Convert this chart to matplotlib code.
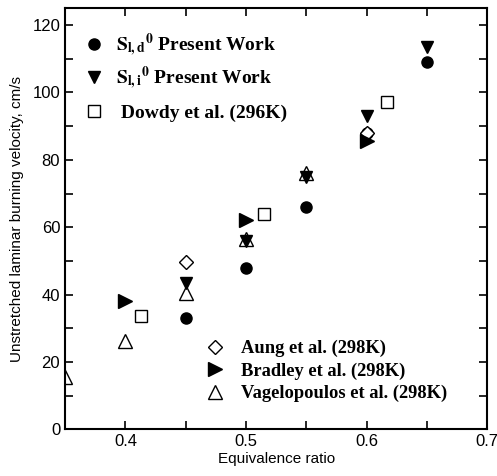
import numpy as np
import matplotlib
matplotlib.use('Agg')
import matplotlib.pyplot as plt

# ── data ──────────────────────────────────────────────────────────────────────
phi_sld = [0.45, 0.50, 0.55, 0.60, 0.65]
sld     = [33.0, 48.0, 66.0, 88.0, 109.0]

phi_sli = [0.45, 0.50, 0.55, 0.60, 0.65]
sli     = [43.5, 56.0, 75.0, 93.0, 113.5]

phi_dowdy = [0.413, 0.515, 0.617]
dowdy     = [33.8, 63.8, 97.0]

phi_aung = [0.45, 0.60]
aung     = [49.6, 88.0]

phi_bradley = [0.40, 0.50, 0.60]
bradley     = [38.0, 62.0, 85.5]

phi_vag = [0.35, 0.40, 0.45, 0.50, 0.55]
vag     = [15.5, 26.2, 40.5, 56.5, 76.0]

# ── style ─────────────────────────────────────────────────────────────────────
plt.rcParams.update({'font.family': 'Liberation Sans',
                     'mathtext.fontset': 'stix'})
bold1 = {'family': 'Liberation Serif', 'weight': 'bold', 'size': 14}
bold2 = {'family': 'Liberation Serif', 'weight': 'bold', 'size': 13.3}

fig = plt.figure(figsize=(4.97, 4.76), dpi=100)
ax = fig.add_axes([0.131, 0.0977, 0.849, 0.8853])

h1, = ax.plot(phi_sld, sld, 'o', color='k', ms=8, ls='none')
h2, = ax.plot(phi_sli, sli, 'v', color='k', ms=8.5, ls='none')
h3, = ax.plot(phi_dowdy, dowdy, 's', mfc='white', mec='k', mew=1.0, ms=9, ls='none')
h4, = ax.plot(phi_aung, aung, 'D', mfc='white', mec='k', mew=1.0, ms=7.5, ls='none')
h5, = ax.plot(phi_bradley, bradley, '>', color='k', ms=10, ls='none')
h6, = ax.plot(phi_vag, vag, '^', mfc='none', mec='k', mew=1.0, ms=10.5, ls='none')

ax.set_xlim(0.35, 0.7)
ax.set_ylim(0, 125)
ax.set_xticks([0.4, 0.5, 0.6, 0.7])
ax.set_xticks(np.arange(0.35, 0.701, 0.05), minor=True)
ax.set_yticks(np.arange(0, 121, 20))
ax.set_yticks(np.arange(0, 121, 10), minor=True)
ax.tick_params(direction='in', which='both', top=True, right=True, labelsize=12)
ax.tick_params(which='major', length=6, width=1.2)
ax.tick_params(which='minor', length=6, width=1.2)
for s in ax.spines.values():
    s.set_linewidth(1.5)

ax.set_xlabel('Equivalence ratio', fontsize=11, labelpad=2)
ax.set_ylabel('Unstretched laminar burning velocity, cm/s', fontsize=11, labelpad=6)

leg1 = ax.legend([h1, h2],
                 [r'$\mathbf{S}_{\mathbf{l,d}}{}^{\mathbf{0}}$ Present Work',
                  r'$\mathbf{S}_{\mathbf{l,i}}{}^{\mathbf{0}}$ Present Work'],
                 loc='upper left', bbox_to_anchor=(0.0, 0.985), frameon=False,
                 prop=bold1, labelspacing=0.3, handletextpad=0.5,
                 handlelength=1.2)
ax.add_artist(leg1)
leg2 = ax.legend([h3], [' Dowdy et al. (296K)'],
                 loc='center left', bbox_to_anchor=(0.0, 0.751), frameon=False,
                 prop=bold1, handletextpad=0.5, handlelength=1.2)
ax.add_artist(leg2)
ax.legend([h4, h5, h6],
          ['Aung et al. (298K)', 'Bradley et al. (298K)',
           'Vagelopoulos et al. (298K)'],
          loc='lower left', bbox_to_anchor=(0.29, 0.025), frameon=False,
          prop=bold2, labelspacing=0.28, handletextpad=0.8,
          handlelength=1.2)

fig.savefig('out.png', dpi=100)
